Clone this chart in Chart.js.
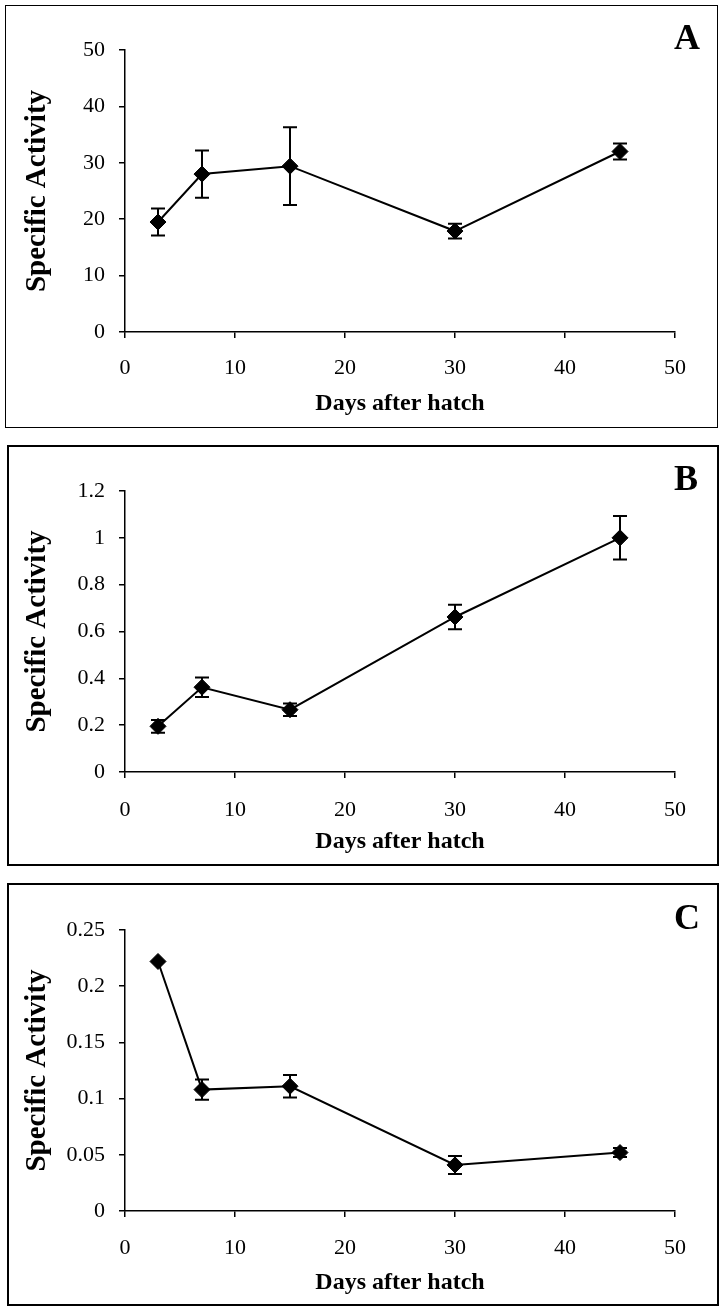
<!DOCTYPE html>
<html>
<head>
<meta charset="utf-8">
<script src="https://cdn.jsdelivr.net/npm/chart.js@4.4.1/dist/chart.umd.min.js"></script>
<style>
  html, body { margin:0; padding:0; background:#fff; }
  body { width:720px; height:1306px; position:relative; overflow:hidden; font-family:'Liberation Serif', 'Times New Roman', serif; }
  .frame { position:absolute; box-sizing:border-box; border-style:solid; border-color:#000; }
  .wrap { position:absolute; left:0; width:720px; }
  .letter { position:absolute; left:674px; font-weight:bold; font-size:36px; line-height:36px; color:#000; }
</style>
</head>
<body>
<div class="frame" style="left:5px;top:5px;width:713px;height:423px;border-width:1.5px;"></div>
<div class="frame" style="left:7px;top:445px;width:712px;height:421px;border-width:2.5px;"></div>
<div class="frame" style="left:7px;top:883px;width:712px;height:423px;border-width:2.5px;"></div>

<div class="wrap" style="top:0px;height:430px;"><canvas id="cA"></canvas></div>
<div class="wrap" style="top:437px;height:430px;"><canvas id="cB"></canvas></div>
<div class="wrap" style="top:875px;height:431px;"><canvas id="cC"></canvas></div>

<div class="letter" style="top:19px;">A</div>
<div class="letter" style="top:460px;">B</div>
<div class="letter" style="top:899px;">C</div>

<script>
// ---- data ----
const days = [3, 7, 15, 30, 45];
const xTicks = [0, 10, 20, 30, 40, 50];

const activityA = [19.5, 28.0, 29.4, 17.9, 32.0];
const errorA    = [2.4, 4.2, 6.9, 1.3, 1.4];
const yTicksA   = [0, 10, 20, 30, 40, 50];

const activityB = [0.195, 0.362, 0.266, 0.662, 1.0];
const errorB    = [0.027, 0.042, 0.027, 0.052, 0.093];
const yTicksB   = [0, 0.2, 0.4, 0.6, 0.8, 1, 1.2];

const activityC = [0.222, 0.108, 0.111, 0.041, 0.052];
const errorC    = [0, 0.009, 0.010, 0.008, 0.004];
const yTicksC   = [0, 0.05, 0.1, 0.15, 0.2, 0.25];

const xTitle = 'Days after hatch';
const yTitle = 'Specific Activity';

// ---- chart setup ----
Chart.defaults.font.family = "'Liberation Serif', 'Times New Roman', serif";
Chart.defaults.color = '#000';

const errorBarPlugin = {
  id: 'errorBars',
  afterDatasetsDraw(chart) {
    const ctx = chart.ctx;
    const xs = chart.scales.x, ys = chart.scales.y;
    chart.data.datasets.forEach(ds => {
      if (!ds.errors) return;
      ctx.save();
      ctx.strokeStyle = '#000';
      ctx.lineWidth = 2;
      ds.data.forEach((p, i) => {
        const e = ds.errors[i];
        if (!e) return;
        const px = xs.getPixelForValue(p.x);
        const yt = ys.getPixelForValue(p.y + e);
        const yb = ys.getPixelForValue(p.y - e);
        ctx.beginPath();
        ctx.moveTo(px, yt); ctx.lineTo(px, yb);
        ctx.moveTo(px - 7, yt); ctx.lineTo(px + 7, yt);
        ctx.moveTo(px - 7, yb); ctx.lineTo(px + 7, yb);
        ctx.stroke();
      });
      ctx.restore();
    });
  }
};

function makeChart(id, values, errors, yTicks, yMax, topPad, xAxisH, xTickPad, xTitlePadBottom) {
  new Chart(document.getElementById(id), {
    type: 'line',
    data: {
      datasets: [{
        data: days.map((d, i) => ({ x: d, y: values[i] })),
        errors: errors,
        borderColor: '#000',
        borderWidth: 2,
        backgroundColor: '#000',
        pointStyle: 'rectRot',
        pointRadius: 8,
        pointBorderWidth: 1,
        pointBackgroundColor: '#000',
        pointBorderColor: '#000',
        tension: 0,
        fill: false
      }]
    },
    options: {
      responsive: true,
      maintainAspectRatio: false,
      animation: false,
      events: [],
      layout: { padding: { top: topPad, right: 45, bottom: 0, left: 0 } },
      plugins: { legend: { display: false }, tooltip: { enabled: false } },
      scales: {
        x: {
          type: 'linear',
          min: 0, max: 50,
          afterBuildTicks: s => { s.ticks = xTicks.map(v => ({ value: v })); },
          afterFit: s => { s.height = xAxisH; },
          grid: { display: true, drawOnChartArea: false, drawTicks: true, tickLength: 6, color: '#000', lineWidth: 1.5 },
          border: { display: true, color: '#000', width: 1.5 },
          ticks: { font: { size: 22 }, padding: xTickPad, maxRotation: 0, autoSkip: false, callback: v => String(v) },
          title: { display: true, text: xTitle, font: { size: 24, weight: 'bold', lineHeight: 1 }, padding: { top: 0, bottom: xTitlePadBottom } }
        },
        y: {
          type: 'linear',
          min: 0, max: yMax,
          afterBuildTicks: s => { s.ticks = yTicks.map(v => ({ value: v })); },
          afterFit: s => { s.width = 125; },
          grid: { display: true, drawOnChartArea: false, drawTicks: true, tickLength: 6, color: '#000', lineWidth: 1.5 },
          border: { display: true, color: '#000', width: 1.5 },
          ticks: { font: { size: 22 }, padding: 14, autoSkip: false, callback: v => String(v) },
          title: { display: true, text: yTitle, font: { size: 29, weight: 'bold', lineHeight: 1 }, padding: { top: 23, bottom: 0 } }
        }
      }
    },
    plugins: [errorBarPlugin]
  });
}

makeChart('cA', activityA, errorA, yTicksA, 50,   50, 98, 17, 14);
makeChart('cB', activityB, errorB, yTicksB, 1.2,  54, 95, 19, 13);
makeChart('cC', activityC, errorC, yTicksC, 0.25, 55, 95, 18, 11);
</script>
</body>
</html>
